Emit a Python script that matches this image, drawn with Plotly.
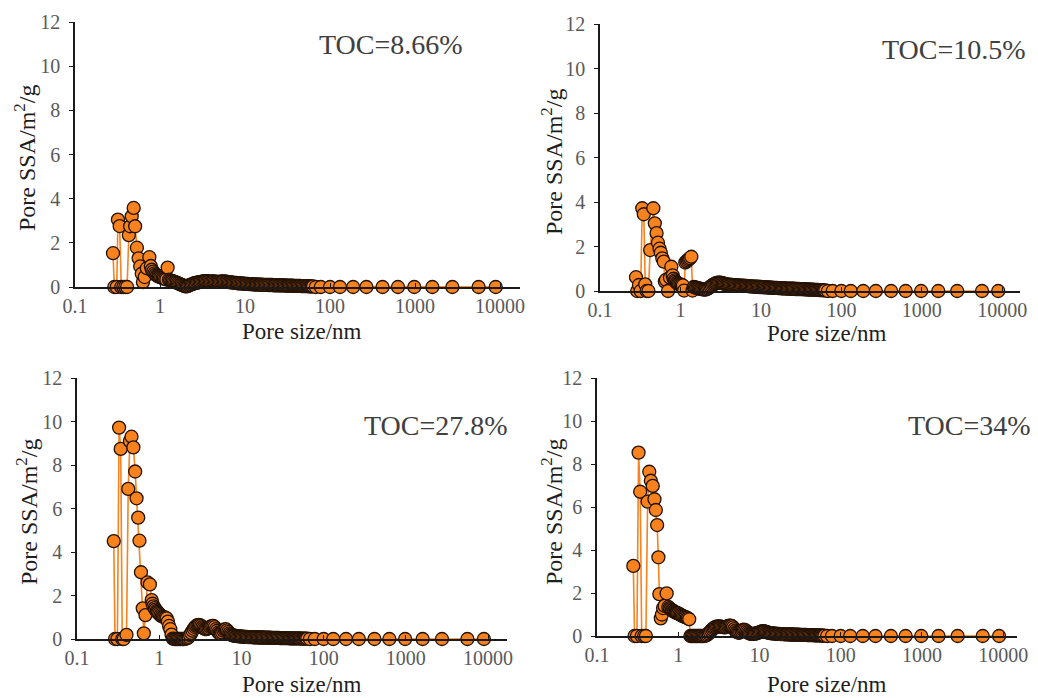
import plotly.graph_objects as go

# ---------------- data ----------------
# shared pore-size grid for the densely sampled 1-63 nm range (nm)
dense_x = [1.000, 1.035, 1.072, 1.109, 1.148, 1.189, 1.230, 1.274, 1.318, 1.365,
           1.413, 1.462, 1.514, 1.567, 1.622, 1.679, 1.738, 1.799, 1.862, 1.928,
           1.995, 2.065, 2.138, 2.213, 2.291, 2.371, 2.455, 2.541, 2.630, 2.723,
           2.818, 2.917, 3.020, 3.126, 3.236, 3.350, 3.467, 3.589, 3.715, 3.846,
           3.981, 4.121, 4.266, 4.416, 4.571, 4.732, 4.898, 5.070, 5.248, 5.433,
           5.623, 5.821, 6.026, 6.237, 6.457, 6.683, 6.918, 7.161, 7.413, 7.674,
           7.943, 8.222, 8.511, 8.810, 9.120, 9.441, 9.772, 10.12, 10.47, 10.84,
           11.22, 11.61, 12.02, 12.45, 12.88, 13.34, 13.80, 14.29, 14.79, 15.31,
           15.85, 16.41, 16.98, 17.58, 18.20, 18.84, 19.50, 20.18, 20.89, 21.63,
           22.39, 23.17, 23.99, 24.83, 25.70, 26.61, 27.54, 28.51, 29.51, 30.55,
           31.62, 32.73, 33.88, 35.08, 36.31, 37.58, 38.90, 40.27, 41.69, 43.15,
           44.67, 46.24, 47.86, 49.55, 51.29, 53.09, 54.95, 56.89, 58.88, 60.95, 63.10]
# sparse large-pore points (nm)
sparse_x = [68, 78, 100, 131, 187, 268, 415, 630, 980, 1600, 2750, 5600, 8900]
sparse_y = [0, 0, 0, 0, 0, 0, 0, 0, 0, 0, 0, 0, 0]

# Panel 1: TOC = 8.66%
p1_small_x = [0.28, 0.29, 0.31, 0.32, 0.335, 0.35, 0.37, 0.39, 0.41, 0.43, 0.445, 0.465, 0.49, 0.51,
              0.535, 0.56, 0.585, 0.61, 0.63, 0.66, 0.70, 0.75, 0.78, 0.80, 0.83, 0.86, 0.89, 0.92, 0.95, 0.97]
p1_small_y = [1.53, 0, 0, 3.05, 2.76, 0, 0, 0, 0, 2.35, 2.75, 3.2, 3.58, 2.75,
              1.78, 1.3, 0.93, 0.6, 0.22, 0.45, 0.85, 1.35, 0.95, 0.78, 0.70, 0.62, 0.56, 0.52, 0.49, 0.47]
p1_dense_y = [0.45, 0.43, 0.40, 0.38, 0.36, 0.34, 0.88, 0.33, 0.30, 0.28,
              0.26, 0.24, 0.22, 0.20, 0.17, 0.15, 0.12, 0.10, 0.07, 0.05,
              0.03, 0.03, 0.05, 0.08, 0.10, 0.13, 0.15, 0.17, 0.18, 0.20,
              0.21, 0.22, 0.23, 0.24, 0.25, 0.26, 0.26, 0.25, 0.25, 0.24,
              0.24, 0.25, 0.25, 0.24, 0.24, 0.23, 0.23, 0.24, 0.24, 0.25,
              0.25, 0.24, 0.24, 0.23, 0.22, 0.22, 0.21, 0.20, 0.19, 0.19,
              0.18, 0.17, 0.17, 0.16, 0.16, 0.15, 0.15, 0.14, 0.14, 0.14,
              0.13, 0.13, 0.13, 0.12, 0.12, 0.12, 0.12, 0.11, 0.11, 0.11,
              0.11, 0.10, 0.10, 0.10, 0.10, 0.09, 0.09, 0.09, 0.09, 0.08,
              0.08, 0.08, 0.08, 0.07, 0.07, 0.07, 0.07, 0.07, 0.07, 0.06,
              0.06, 0.06, 0.06, 0.06, 0.06, 0.05, 0.05, 0.05, 0.05, 0.05,
              0.05, 0.04, 0.04, 0.04, 0.04, 0.04, 0.04, 0.03, 0.03, 0.03, 0.03]

# Panel 2: TOC = 10.5%
p2_small_x = [0.28, 0.29, 0.305, 0.32, 0.335, 0.35, 0.365, 0.38, 0.40, 0.42, 0.46, 0.48, 0.505, 0.525,
              0.55, 0.57, 0.595, 0.62, 0.64, 0.66, 0.70, 0.74, 0.77, 0.80, 0.82, 0.85, 0.87, 0.90, 0.93, 0.96]
p2_small_y = [0.62, 0, 0.27, 0, 3.72, 3.45, 0.3, 0, 0, 1.84, 3.72, 3.04, 2.6, 2.17,
              1.9, 1.72, 1.47, 1.32, 0.42, 0.5, 0, 0.6, 1.09, 0.70, 0.55, 0.48, 0.42, 0.37, 0.33, 0.31]
p2_dense_y = [0.30, 0.27, 0.25, 0.02, 1.28, 1.33, 1.38, 1.43, 1.48, 1.54,
              0.02, 0.18, 0.16, 0.15, 0.14, 0.12, 0.10, 0.09, 0.08, 0.07,
              0.06, 0.07, 0.09, 0.12, 0.16, 0.20, 0.24, 0.28, 0.31, 0.34,
              0.36, 0.37, 0.38, 0.37, 0.36, 0.35, 0.33, 0.32, 0.30, 0.29,
              0.28, 0.28, 0.27, 0.27, 0.26, 0.26, 0.25, 0.25, 0.25, 0.24,
              0.24, 0.24, 0.24, 0.23, 0.23, 0.23, 0.22, 0.22, 0.21, 0.21,
              0.20, 0.20, 0.19, 0.19, 0.19, 0.18, 0.18, 0.18, 0.17, 0.17,
              0.17, 0.16, 0.16, 0.16, 0.15, 0.15, 0.15, 0.14, 0.14, 0.14,
              0.14, 0.13, 0.13, 0.13, 0.12, 0.12, 0.12, 0.12, 0.11, 0.11,
              0.11, 0.10, 0.10, 0.10, 0.10, 0.09, 0.09, 0.09, 0.09, 0.08,
              0.08, 0.08, 0.08, 0.07, 0.07, 0.07, 0.07, 0.06, 0.06, 0.06,
              0.06, 0.05, 0.05, 0.05, 0.05, 0.04, 0.04, 0.04, 0.04, 0.03, 0.03]

# Panel 3: TOC = 27.8%
p3_small_x = [0.28, 0.29, 0.31, 0.325, 0.34, 0.355, 0.37, 0.40, 0.42, 0.44, 0.46, 0.485, 0.51, 0.53,
              0.555, 0.575, 0.60, 0.63, 0.65, 0.68, 0.72, 0.77, 0.81, 0.83, 0.85, 0.88, 0.90, 0.93, 0.95, 0.97]
p3_small_y = [4.5, 0, 0, 9.72, 8.74, 0, 0, 0.19, 6.9, 9.1, 9.3, 8.81, 7.7, 6.47,
              5.58, 4.52, 3.07, 1.41, 0.26, 1.1, 2.6, 2.51, 1.79, 1.62, 1.50, 1.42, 1.35, 1.29, 1.25, 1.20]
p3_dense_y = [1.15, 1.10, 1.05, 1.02, 1.00, 0.98, 0.95, 0.80, 0.60, 0.45,
              0.20, 0.02, 0.00, 0.00, 0.00, 0.00, 0.00, 0.00, 0.00, 0.00,
              0.00, 0.01, 0.02, 0.05, 0.10, 0.18, 0.28, 0.38, 0.47, 0.55,
              0.60, 0.64, 0.65, 0.64, 0.60, 0.55, 0.50, 0.46, 0.45, 0.47,
              0.50, 0.55, 0.58, 0.60, 0.60, 0.55, 0.45, 0.38, 0.30, 0.26,
              0.25, 0.30, 0.38, 0.44, 0.45, 0.40, 0.33, 0.26, 0.21, 0.18,
              0.16, 0.15, 0.14, 0.13, 0.13, 0.12, 0.12, 0.11, 0.11, 0.10,
              0.10, 0.10, 0.09, 0.09, 0.09, 0.09, 0.08, 0.08, 0.08, 0.08,
              0.07, 0.07, 0.07, 0.07, 0.07, 0.06, 0.06, 0.06, 0.06, 0.06,
              0.06, 0.05, 0.05, 0.05, 0.05, 0.05, 0.05, 0.05, 0.04, 0.04,
              0.04, 0.04, 0.04, 0.04, 0.04, 0.04, 0.03, 0.03, 0.03, 0.03,
              0.03, 0.03, 0.03, 0.03, 0.03, 0.02, 0.02, 0.02, 0.02, 0.02, 0.02]

# Panel 4: TOC = 34%
p4_small_x = [0.28, 0.29, 0.31, 0.325, 0.34, 0.355, 0.38, 0.40, 0.42, 0.44, 0.46, 0.485, 0.51, 0.53,
              0.55, 0.57, 0.585, 0.61, 0.63, 0.65, 0.68, 0.72, 0.755, 0.78, 0.80, 0.83, 0.85, 0.88, 0.90, 0.93, 0.95, 0.97]
p4_small_y = [3.26, 0, 0, 8.53, 6.71, 0, 0, 0, 6.25, 7.64, 7.22, 6.98, 6.36, 5.86,
              5.16, 3.66, 1.95, 0.82, 1.0, 1.3, 1.4, 1.98, 1.35, 1.30, 1.25, 1.21, 1.18, 1.15, 1.12, 1.10, 1.08, 1.06]
p4_dense_y = [1.05, 1.02, 0.98, 0.95, 0.92, 0.90, 0.88, 0.85, 0.82, 0.78,
              0.00, 0.00, 0.00, 0.00, 0.00, 0.00, 0.00, 0.00, 0.00, 0.00,
              0.00, 0.00, 0.01, 0.03, 0.07, 0.12, 0.18, 0.25, 0.31, 0.36,
              0.40, 0.43, 0.44, 0.45, 0.45, 0.44, 0.42, 0.41, 0.40, 0.41,
              0.44, 0.47, 0.48, 0.48, 0.46, 0.40, 0.32, 0.25, 0.19, 0.16,
              0.15, 0.18, 0.23, 0.28, 0.30, 0.27, 0.22, 0.17, 0.13, 0.11,
              0.10, 0.10, 0.10, 0.11, 0.12, 0.14, 0.16, 0.18, 0.20, 0.22,
              0.22, 0.21, 0.19, 0.17, 0.15, 0.14, 0.13, 0.12, 0.12, 0.11,
              0.11, 0.10, 0.10, 0.10, 0.09, 0.09, 0.09, 0.08, 0.08, 0.08,
              0.08, 0.07, 0.07, 0.07, 0.07, 0.06, 0.06, 0.06, 0.06, 0.06,
              0.05, 0.05, 0.05, 0.05, 0.05, 0.05, 0.04, 0.04, 0.04, 0.04,
              0.04, 0.04, 0.03, 0.03, 0.03, 0.03, 0.03, 0.03, 0.02, 0.02, 0.02]

toc_labels = ["TOC=8.66%", "TOC=10.5%", "TOC=27.8%", "TOC=34%"]
x_title = "Pore size/nm"
y_title = "Pore SSA/m<sup>2</sup>/g"
y_ticks = [0, 2, 4, 6, 8, 10, 12]
x_ticks = [0.1, 1, 10, 100, 1000, 10000]
x_ticktext = ["0.1", "1", "10", "100", "1000", "10000"]

# ---------------- layout geometry (pixels) ----------------
W, H = 1038, 698
# (left, right, top, bottom, xmax_log)
boxes = [
    (75, 520, 22, 287, 4.235),
    (600, 1020, 24, 291, 4.22),
    (77, 507, 378, 639, 4.23),
    (597, 1017, 378, 636, 4.17),
]
toc_pos = [(465, 45), (1028, 50), (510, 425), (1033, 425)]
xtitle_pos = [(302, 332), (827, 333), (302, 684), (827, 684)]
ytitle_pos = [(25, 158), (552, 162), (27, 512), (552, 512)]

FONT = "Liberation Serif, Times New Roman, serif"
ORANGE = "#F7821E"
EDGE = "#241205"

panels = [
    (p1_small_x, p1_small_y, p1_dense_y),
    (p2_small_x, p2_small_y, p2_dense_y),
    (p3_small_x, p3_small_y, p3_dense_y),
    (p4_small_x, p4_small_y, p4_dense_y),
]

fig = go.Figure()
annotations = []
for i, ((sx, sy, dy), (l, r, t, b, xmax)) in enumerate(zip(panels, boxes)):
    n = "" if i == 0 else str(i + 1)
    xs = list(sx) + list(dense_x) + list(sparse_x)
    ys = list(sy) + list(dy) + list(sparse_y)
    fig.add_trace(go.Scatter(
        x=xs, y=ys, mode="lines+markers",
        line=dict(color=ORANGE, width=1.6),
        marker=dict(size=13, color=ORANGE, line=dict(color=EDGE, width=1.3)),
        cliponaxis=False, showlegend=False,
        xaxis="x" + n, yaxis="y" + n,
    ))
    xdom = [l / W, r / W]
    ydom = [1 - b / H, 1 - t / H]
    fig.layout["xaxis" + n] = dict(
        domain=xdom, anchor="y" + n, type="log", range=[-1, xmax],
        tickvals=x_ticks, ticktext=x_ticktext, automargin=False,
        showline=True, linecolor="#1a1a1a", linewidth=1.5,
        ticks="inside", ticklen=4, tickcolor="#1a1a1a",
        showgrid=False, zeroline=False,
        tickfont=dict(family=FONT, size=20, color="#5a5a5a"),
    )
    fig.layout["yaxis" + n] = dict(
        domain=ydom, anchor="x" + n, range=[0, 12],
        tickvals=y_ticks, automargin=False,
        showline=True, linecolor="#1a1a1a", linewidth=1.5,
        ticks="outside", ticklen=4, tickcolor="#1a1a1a",
        showgrid=False, zeroline=False,
        tickfont=dict(family=FONT, size=20, color="#5a5a5a"),
        ticklabelstandoff=5,
    )
    tx, ty = toc_pos[i]
    annotations.append(dict(text=toc_labels[i], xref="paper", yref="paper",
                            x=tx / W, y=1 - ty / H, xanchor="right", yanchor="middle",
                            showarrow=False, font=dict(family=FONT, size=28, color="#404040")))
    px, py = xtitle_pos[i]
    annotations.append(dict(text=x_title, xref="paper", yref="paper",
                            x=px / W, y=1 - py / H, xanchor="center", yanchor="middle",
                            showarrow=False, font=dict(family=FONT, size=23, color="#1e1e1e")))
    qx, qy = ytitle_pos[i]
    annotations.append(dict(text=y_title, xref="paper", yref="paper",
                            x=qx / W, y=1 - qy / H, xanchor="center", yanchor="middle",
                            textangle=-90,
                            showarrow=False, font=dict(family=FONT, size=24, color="#1e1e1e")))

fig.update_layout(
    width=W, height=H,
    margin=dict(l=0, r=0, t=0, b=0),
    paper_bgcolor="white", plot_bgcolor="white",
    annotations=annotations,
)

fig.write_html("out.html", config={"displayModeBar": False},
               post_script="document.body.style.margin='0';")
